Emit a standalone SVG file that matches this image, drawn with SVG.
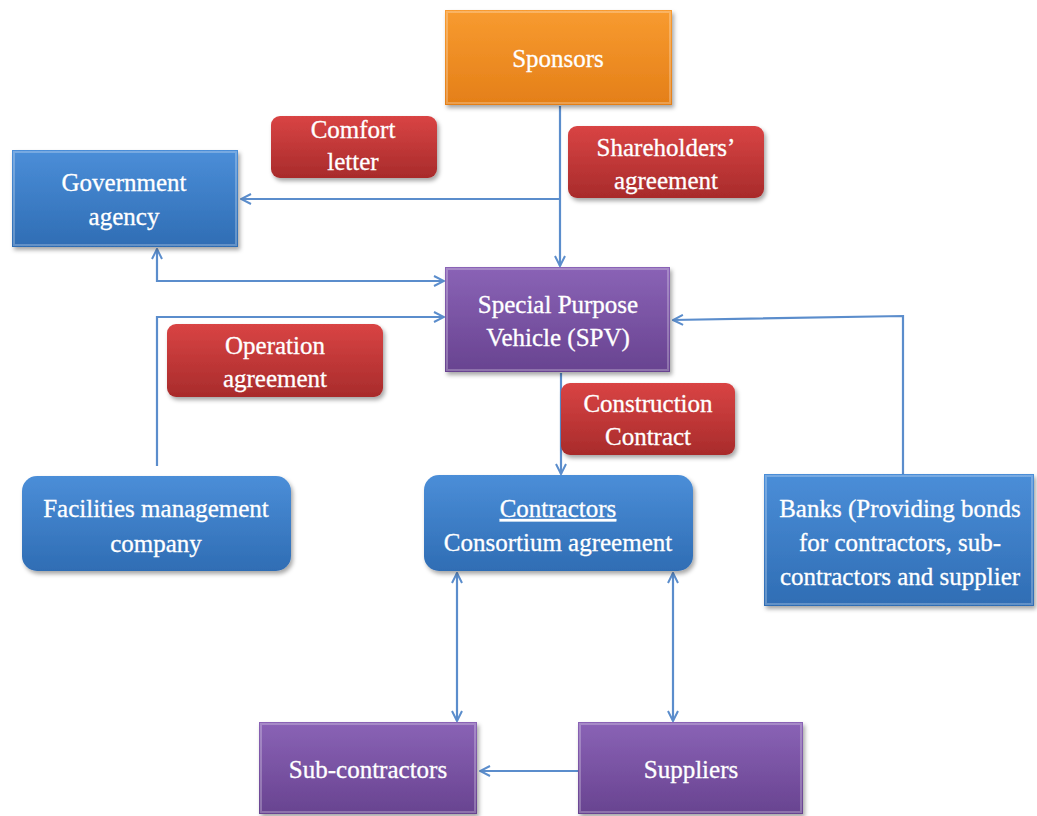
<svg xmlns="http://www.w3.org/2000/svg" width="1037" height="816" viewBox="0 0 1037 816">
  <defs>
    <linearGradient id="gBlue" x1="0" y1="0" x2="0" y2="1">
      <stop offset="0" stop-color="#4b8ed8"/>
      <stop offset="1" stop-color="#2f6db4"/>
    </linearGradient>
    <linearGradient id="gPurple" x1="0" y1="0" x2="0" y2="1">
      <stop offset="0" stop-color="#8a63b6"/>
      <stop offset="1" stop-color="#684390"/>
    </linearGradient>
    <linearGradient id="gRed" x1="0" y1="0" x2="0" y2="1">
      <stop offset="0" stop-color="#d94444"/>
      <stop offset="1" stop-color="#a82b2b"/>
    </linearGradient>
    <linearGradient id="gOrange" x1="0" y1="0" x2="0" y2="1">
      <stop offset="0" stop-color="#f89b30"/>
      <stop offset="1" stop-color="#e47f18"/>
    </linearGradient>
    <filter id="shadow" x="-10%" y="-10%" width="125%" height="130%">
      <feDropShadow dx="2" dy="3" stdDeviation="2" flood-color="#000" flood-opacity="0.35"/>
    </filter>
    <marker id="arrow" viewBox="0 0 12 12" refX="11" refY="6" markerWidth="12" markerHeight="12" markerUnits="userSpaceOnUse" orient="auto-start-reverse">
      <path d="M1,1 L11,6 L1,11" fill="none" stroke="#5b8dcc" stroke-width="2"/>
    </marker>
  </defs>
  <style>
    .box { filter: url(#shadow); }
    .bevel { fill: none; stroke: #ffffff; stroke-opacity: 0.25; stroke-width: 2; }
    .lbl { font-family: "Liberation Serif", "DejaVu Serif", serif; font-size: 25px; fill: #ffffff; text-anchor: middle; stroke: #ffffff; stroke-width: 0.3; }
    .conn { fill: none; stroke: #5b8dcc; stroke-width: 2.2; }
  </style>

  <rect width="1037" height="816" fill="#ffffff"/>

  <!-- connectors -->
  <g id="connectors">
    <path class="conn" d="M560,106 L560,266" marker-end="url(#arrow)"/>
    <path class="conn" d="M560,199 L241,199" marker-end="url(#arrow)"/>
    <path class="conn" d="M157,249 L157,281 L444,281" marker-start="url(#arrow)" marker-end="url(#arrow)"/>
    <path class="conn" d="M157,466 L157,317 L444,317" marker-end="url(#arrow)"/>
    <path class="conn" d="M903,474 L903,316 L673,320" marker-end="url(#arrow)"/>
    <path class="conn" d="M561,373 L561,474" marker-end="url(#arrow)"/>
    <path class="conn" d="M457,573 L457,721" marker-start="url(#arrow)" marker-end="url(#arrow)"/>
    <path class="conn" d="M673,573 L673,721" marker-start="url(#arrow)" marker-end="url(#arrow)"/>
    <path class="conn" d="M578,771 L480,771" marker-end="url(#arrow)"/>
  </g>

  <g id="sponsors">
    <rect class="box" x="445" y="10" width="227" height="95" fill="url(#gOrange)"/>
    <rect class="bevel" x="447" y="12" width="223" height="91"/>
    <text class="lbl" x="558" y="67">Sponsors</text>
  </g>

  <g id="government-agency">
    <rect class="box" x="12" y="150" width="226" height="97" fill="url(#gBlue)"/>
    <rect class="bevel" x="14" y="152" width="222" height="93"/>
    <text class="lbl" x="124" y="191">Government</text>
    <text class="lbl" x="124" y="225">agency</text>
  </g>

  <g id="comfort-letter">
    <rect class="box" x="271" y="116" width="166" height="62" rx="9" fill="url(#gRed)"/>
    <text class="lbl" x="353" y="138">Comfort</text>
    <text class="lbl" x="353" y="170">letter</text>
  </g>

  <g id="shareholders-agreement">
    <rect class="box" x="568" y="126" width="196" height="72" rx="9" fill="url(#gRed)"/>
    <text class="lbl" x="666" y="156">Shareholders’</text>
    <text class="lbl" x="666" y="189">agreement</text>
  </g>

  <g id="spv">
    <rect class="box" x="445" y="267" width="225" height="105" fill="url(#gPurple)"/>
    <rect class="bevel" x="447" y="269" width="221" height="101"/>
    <text class="lbl" x="558" y="313">Special Purpose</text>
    <text class="lbl" x="558" y="346">Vehicle (SPV)</text>
  </g>

  <g id="operation-agreement">
    <rect class="box" x="167" y="324" width="216" height="73" rx="9" fill="url(#gRed)"/>
    <text class="lbl" x="275" y="354">Operation</text>
    <text class="lbl" x="275" y="387">agreement</text>
  </g>

  <g id="construction-contract">
    <rect class="box" x="561" y="383" width="174" height="72" rx="9" fill="url(#gRed)"/>
    <text class="lbl" x="648" y="412">Construction</text>
    <text class="lbl" x="648" y="445">Contract</text>
  </g>

  <g id="facilities-management">
    <rect class="box" x="22" y="476" width="269" height="95" rx="15" fill="url(#gBlue)"/>
    <text class="lbl" x="156" y="517">Facilities management</text>
    <text class="lbl" x="156" y="552">company</text>
  </g>

  <g id="contractors">
    <rect class="box" x="424" y="475" width="269" height="96" rx="15" fill="url(#gBlue)"/>
    <text class="lbl" x="558" y="517" text-decoration="underline">Contractors</text>
    <text class="lbl" x="558" y="551">Consortium agreement</text>
  </g>

  <g id="banks">
    <rect class="box" x="764" y="474" width="270" height="132" fill="url(#gBlue)"/>
    <rect class="bevel" x="766" y="476" width="266" height="128"/>
    <text class="lbl" x="900" y="517">Banks (Providing bonds</text>
    <text class="lbl" x="900" y="551">for contractors, sub-</text>
    <text class="lbl" x="900" y="585">contractors and supplier</text>
  </g>

  <g id="sub-contractors">
    <rect class="box" x="259" y="722" width="218" height="92" fill="url(#gPurple)"/>
    <rect class="bevel" x="261" y="724" width="214" height="88"/>
    <text class="lbl" x="368" y="778">Sub-contractors</text>
  </g>

  <g id="suppliers">
    <rect class="box" x="578" y="722" width="225" height="92" fill="url(#gPurple)"/>
    <rect class="bevel" x="580" y="724" width="221" height="88"/>
    <text class="lbl" x="691" y="778">Suppliers</text>
  </g>
</svg>
